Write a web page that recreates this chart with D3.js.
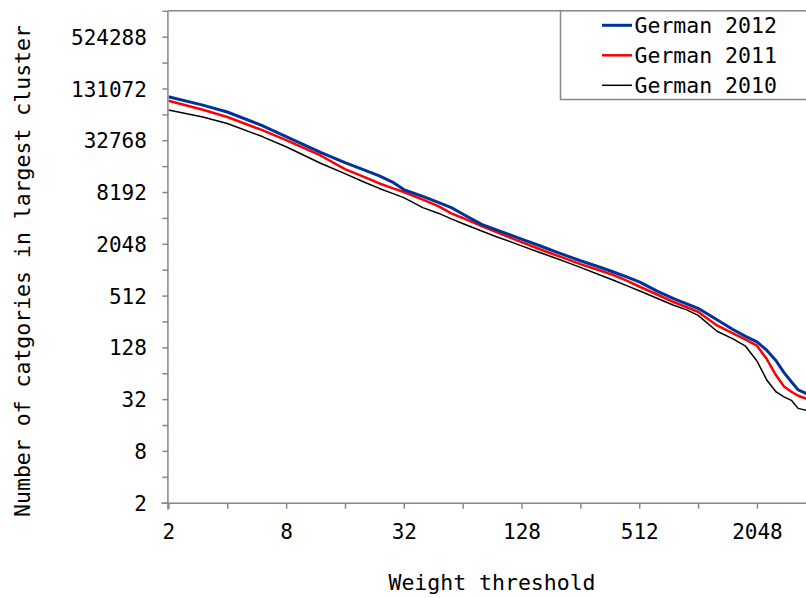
<!DOCTYPE html>
<html>
<head>
<meta charset="utf-8">
<script src="https://cdn.jsdelivr.net/npm/d3@7"></script>
<style>
  html, body { margin: 0; padding: 0; background: #ffffff; }
  svg { display: block; }
  text { font-family: "DejaVu Sans Mono", "Liberation Mono", monospace; fill: #000; }
</style>
</head>
<body>
<svg id="chart" width="806" height="598"></svg>
<script>
// Weight thresholds (x) shared by all series
const weights = [2, 3, 4, 6, 8, 12, 16, 20, 24, 28, 32, 40, 48, 56, 64, 80, 96, 112, 128, 160,
  192, 224, 256, 320, 384, 448, 512, 640, 768, 896, 1024, 1280, 1536, 1792, 2048, 2304, 2560,
  2816, 3072, 3328, 3584, 3700];

// Number of categories in the largest cluster, per year
const german2012 = [105000, 84000, 69800, 48700, 36200, 23700, 18000, 14800, 12600, 10700, 8750,
  7290, 6200, 5400, 4540, 3440, 2960, 2600, 2320, 1930, 1650, 1450, 1300, 1100, 950, 835, 740,
  570, 472, 410, 364, 268, 208, 172, 148, 118, 90, 65, 51, 41, 38, 37];
const german2011 = [94400, 74200, 61000, 43200, 32900, 21800, 15100, 12300, 10300, 9110, 8200,
  6680, 5620, 4620, 4090, 3290, 2790, 2420, 2140, 1760, 1510, 1330, 1190, 1010, 872, 755, 653,
  520, 431, 375, 332, 230, 187, 157, 134, 93, 61, 45, 39, 35, 33, 32];
const german2010 = [73600, 60900, 51200, 36400, 27500, 17700, 13400, 10700, 9020, 7900, 7060,
  5400, 4650, 3990, 3530, 2880, 2460, 2170, 1940, 1610, 1390, 1220, 1090, 896, 761, 659, 582,
  470, 395, 349, 301, 197, 162, 132, 89, 53, 39, 34, 31, 25, 24, 24];

const seriesNames = ["German 2012", "German 2011", "German 2010"];
const seriesColors = ["#003399", "#ff0000", "#000000"];
const seriesWidths = [3, 2.5, 1.5];
const seriesValues = [german2012, german2011, german2010];

// Axis ticks: every power of two, labels on odd powers
const xTicks = d3.range(1, 13).map(p => 2 ** p);
const xTickLabels = ["2", "8", "32", "128", "512", "2048"];
const yTicks = d3.range(1, 21).map(p => 2 ** p);
const yTickLabels = ["2", "8", "32", "128", "512", "2048", "8192", "32768", "131072", "524288"];

(function draw() {
  const svg = d3.select("#chart");
  const W = 806, H = 598;
  const pL = 168.4, pR = 815.8, pT = 10.8, pB = 502.7;
  const axisColor = "#878787";

  const x = d3.scaleLog().base(2).domain([2, 4096]).range([pL, pR]);
  const y = d3.scaleLog().base(2).domain([2, 1048576]).range([pB, pT]);

  svg.append("rect").attr("width", W).attr("height", H).attr("fill", "#fff");

  // Plot frame (top edge)
  svg.append("line")
    .attr("x1", pL).attr("x2", pR).attr("y1", pT).attr("y2", pT)
    .attr("stroke", axisColor).attr("stroke-width", 1.5);

  // Clip for data lines
  svg.append("clipPath").attr("id", "plotClip")
    .append("rect").attr("x", pL).attr("y", pT).attr("width", pR - pL).attr("height", pB - pT);

  const line = d3.line()
    .x((d, i) => x(weights[i]))
    .y(d => y(d));

  // Draw 2010 first so 2012 sits on top
  const order = [2, 1, 0];
  svg.append("g").attr("clip-path", "url(#plotClip)")
    .selectAll("path").data(order).join("path")
    .attr("d", k => line(seriesValues[k]))
    .attr("fill", "none")
    .attr("stroke", k => seriesColors[k])
    .attr("stroke-width", k => seriesWidths[k])
    .attr("stroke-linejoin", "round");

  // X axis
  const xAxis = d3.axisBottom(x).tickValues(xTicks).tickSize(6).tickSizeOuter(0)
    .tickFormat(d => xTickLabels.includes(String(d)) ? String(d) : "");
  const gx = svg.append("g").attr("transform", `translate(0,${pB})`).call(xAxis);
  gx.select(".domain").attr("stroke", axisColor).attr("stroke-width", 1.5)
    .attr("d", `M${pL - 7},0.5H${pR}`);
  gx.selectAll(".tick line").attr("stroke", axisColor).attr("stroke-width", 1.5);
  gx.selectAll(".tick text").attr("font-size", 21).attr("y", 36.6).attr("dy", null)
    .attr("font-family", "DejaVu Sans Mono, monospace").attr("fill", "#000");

  // Y axis
  const yAxis = d3.axisLeft(y).tickValues(yTicks).tickSize(6).tickSizeOuter(0)
    .tickFormat(d => yTickLabels.includes(String(d)) ? String(d) : "");
  const gy = svg.append("g").attr("transform", `translate(${pL},0)`).call(yAxis);
  gy.select(".domain").attr("stroke", axisColor).attr("stroke-width", 1.5)
    .attr("d", `M-0.5,${pT}V${pB + 7}`);
  gy.selectAll(".tick line").attr("stroke", axisColor).attr("stroke-width", 1.5);
  gy.selectAll(".tick text").attr("font-size", 21).attr("x", -21.5).attr("dy", "0.36em")
    .attr("font-family", "DejaVu Sans Mono, monospace").attr("fill", "#000");

  // Axis titles
  svg.append("text")
    .attr("x", 492).attr("y", 589.5).attr("text-anchor", "middle")
    .attr("font-size", 21.5)
    .text("Weight threshold");
  svg.append("text")
    .attr("transform", "translate(30,271) rotate(-90)")
    .attr("text-anchor", "middle").attr("font-size", 21.5)
    .text("Number of catgories in largest cluster");

  // Legend
  const lg = svg.append("g");
  lg.append("rect")
    .attr("x", 560.5).attr("y", pT).attr("width", 260).attr("height", 99.5 - pT)
    .attr("fill", "#fff").attr("stroke", axisColor).attr("stroke-width", 1.5);
  seriesNames.forEach((name, i) => {
    const ry = 25.3 + i * 30;
    lg.append("line")
      .attr("x1", 602).attr("x2", 632).attr("y1", ry).attr("y2", ry)
      .attr("stroke", seriesColors[i]).attr("stroke-width", seriesWidths[i]);
    lg.append("text")
      .attr("x", 634.5).attr("y", ry + 8).attr("font-size", 21.5)
      .text(name);
  });
})();
</script>
</body>
</html>
